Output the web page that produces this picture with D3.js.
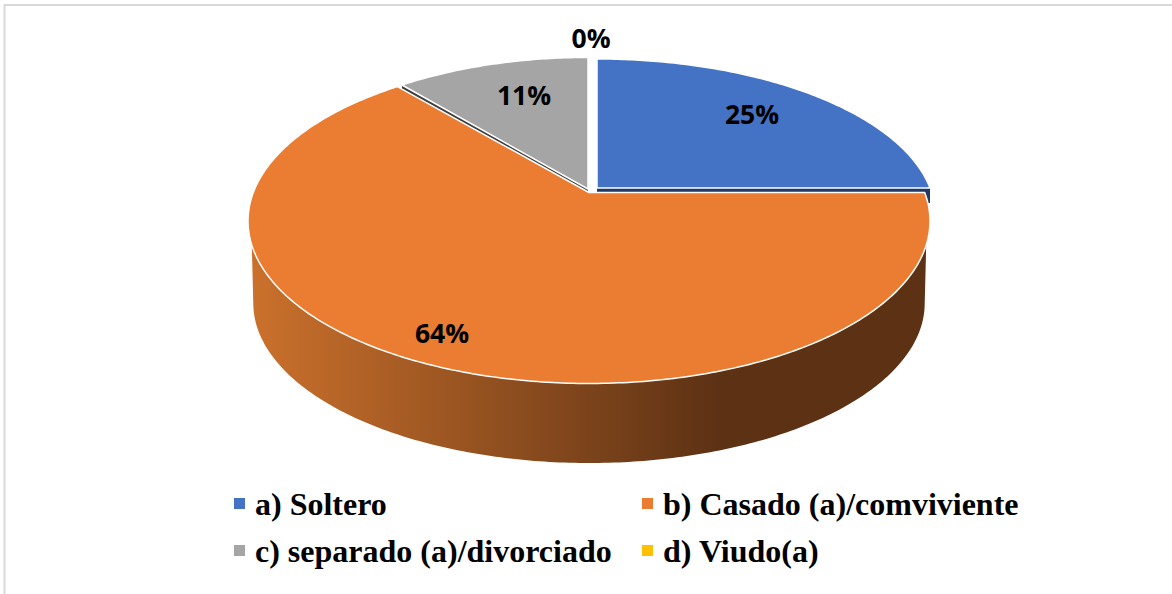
<!DOCTYPE html>
<html><head><meta charset="utf-8"><style>html,body{margin:0;padding:0;background:#fff}svg{display:block}</style>
<script src="https://cdn.jsdelivr.net/npm/d3@7"></script></head><body><svg id="c" width="1172" height="594"></svg>
<script>
const categories = ["a) Soltero","b) Casado (a)/comviviente","c) separado (a)/divorciado","d) Viudo(a)"];
const values = [25,63.8,11.2,0];
const colors = ["#4472c4","#eb7d32","#a5a5a5","#ffc000"];
const labels = ["25%","64%","11%","0%"];
const svg = d3.select("#c");
const W=1172,H=594;
svg.append("path").attr("d",`M4.5 ${H} V5 H${W}`).attr("fill","none").attr("stroke","#d9d9d9").attr("stroke-width",2);
const defs=svg.append("defs");
const g=defs.append("linearGradient").attr("id","wall").attr("gradientUnits","userSpaceOnUse").attr("x1",250).attr("x2",722).attr("y1",0).attr("y2",0);
[[0,"#cb712c"],[1,"#5c3114"]].forEach(s=>g.append("stop").attr("offset",s[0]).attr("stop-color",s[1]));
const K=-0.1754,A=123.8,R=335.7,B=192;
// perspective projection of the pie disc; c = [apexX, apexY, scaleX, scaleY]
function proj(a,c,r0,dy){const u=r0*Math.sin(a),v=-r0*Math.cos(a),w=1+K*v;
  return [c[0]+(c[2]||1)*R*u/w, c[1]+(c[3]||1)*((A*v+B)/w-B)+(dy||0)];}
const pie=d3.pie().sort(null).value(d=>d)(values);
const centers=[[597,188,.992,.963],[589,192.5,1,1],[588,189,.971,.982],[590,188,1,1]];
const line=d3.line();
function arcPts(a0,a1,c,dy,sc){const n=Math.max(2,Math.ceil((a1-a0)*80)),p=[];
  for(let i=0;i<=n;i++)p.push(proj(a0+(a1-a0)*i/n,c,sc||1,dy));return p;}
// outer wall of the large slice: front part of the rim only
const depth=83;
const rimTop=arcPts(1.892,2*Math.PI-1.892,centers[1],0),rimBot=arcPts(1.747,2*Math.PI-1.747,centers[1],depth,0.985).reverse();
svg.append("path").attr("d",line(rimTop.concat(rimBot))+"Z").attr("fill","url(#wall)");
// inner faces seen through the gaps
const face=(c,a,dy,fill)=>{const e=proj(a,c,1);
  svg.append("path").attr("d",line([[c[0],c[1]],e,[e[0],e[1]+dy],[c[0],c[1]+dy]])+"Z").attr("fill",fill);};
face(centers[0],pie[0].endAngle,15,"#203864");
face(centers[2],pie[2].startAngle,12,"#3f3f3f");
// tops
[0,2,1].forEach(i=>{const d=pie[i],c=centers[i];
  const pts=[[c[0],c[1]]].concat(arcPts(d.startAngle,d.endAngle,c,0));
  svg.append("path").attr("d",line(pts)+"Z").attr("fill",colors[i]).attr("stroke","#fff").attr("stroke-width",1.5).attr("stroke-linejoin","round");});
// data labels
const labelPos=[[752,114],[442,333],[524,95],[591,38]];
labels.forEach((t,i)=>svg.append("text").attr("x",labelPos[i][0]).attr("y",labelPos[i][1]+10).attr("text-anchor","middle")
  .attr("font-family","'Open Sans',sans-serif").attr("font-weight",700).attr("font-size",26.5).attr("fill","#000").text(t));
// legend
const legendPos=[[234,498],[642,498],[234,545],[642,545]];
categories.forEach((t,i)=>{const [x,y]=legendPos[i];
  svg.append("rect").attr("x",x).attr("y",y).attr("width",11).attr("height",11).attr("fill",colors[i]);
  svg.append("text").attr("x",x+21).attr("y",y+17).attr("font-family","'Liberation Serif',serif").attr("font-weight",700).attr("font-size",32).attr("fill","#000").text(t);});
</script></body></html>
